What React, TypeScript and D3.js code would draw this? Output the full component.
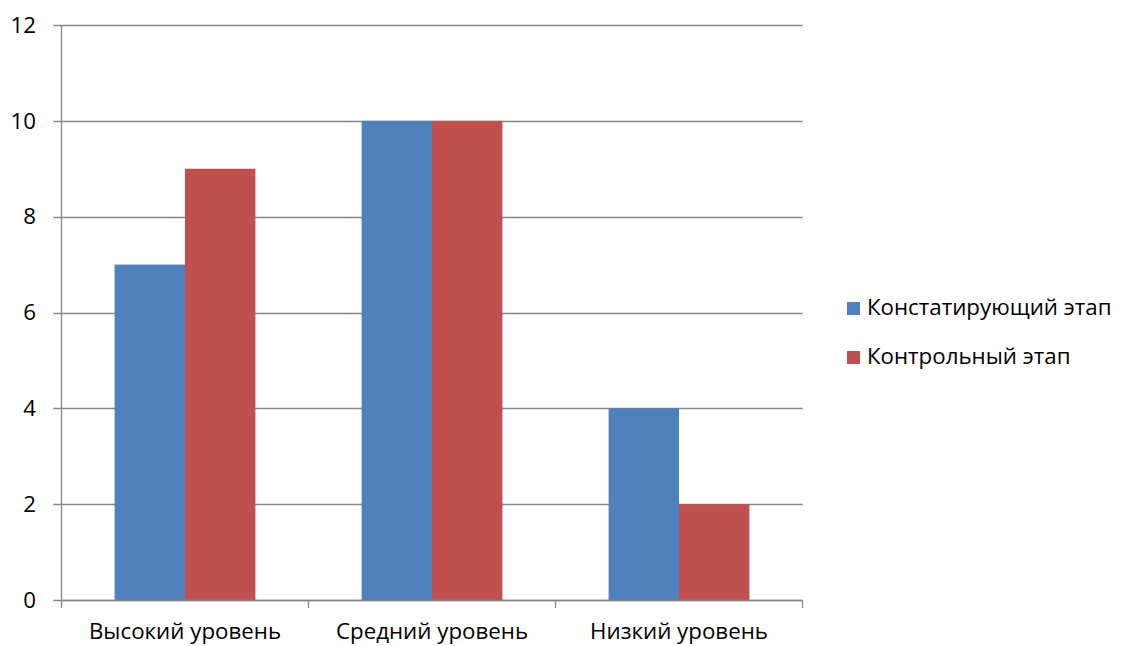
import React from "react";
import * as d3 from "d3";

const categories = ["Высокий уровень", "Средний уровень", "Низкий уровень"];
const seriesNames = ["Констатирующий этап", "Контрольный этап"];
const ascertaining = [7, 10, 4];
const control = [9, 10, 2];
const yTicks = [0, 2, 4, 6, 8, 10, 12];
const colors = ["#4F81BD", "#C0504D"];

const W = 1121;
const H = 646;
const left = 61.5;
const right = 802.5;
const top = 25;
const bottom = 600;
const FONT = "'Open Sans', 'Liberation Sans', sans-serif";
const FS = 22.3;

export default function App() {
  const x = d3.scaleBand<string>().domain(categories).range([left, right]).paddingInner(0).paddingOuter(0);
  const y = d3.scaleLinear().domain([0, 12]).range([bottom, top]);
  const bw = x.bandwidth();
  const barW = bw * 0.285;
  const series = [ascertaining, control];

  return (
    <svg width={W} height={H} style={{ position: "absolute", left: 0, top: 0, background: "#fff" }}>
      {yTicks.map((t) => (
        <g key={t}>
          <line x1={left - 8} x2={right} y1={Math.round(y(t)) + 0.5} y2={Math.round(y(t)) + 0.5} stroke="#868686" strokeWidth={1.3} />
          <text x={36} y={y(t)} dy="0.35em" textAnchor="end" fontFamily={FONT} fontSize={FS} fill="#000">
            {t}
          </text>
        </g>
      ))}
      {categories.map((c, i) =>
        series.map((s, k) => (
          <rect
            key={c + k}
            x={(x(c) as number) + bw / 2 - barW + k * barW}
            y={y(s[i])}
            width={barW}
            height={y(0) - y(s[i])}
            fill={colors[k]}
          />
        ))
      )}
      <line x1={left} x2={left} y1={top} y2={bottom} stroke="#868686" strokeWidth={1.3} />
      <line x1={left} x2={right} y1={bottom + 0.5} y2={bottom + 0.5} stroke="#868686" strokeWidth={1.3} />
      {[...categories.map((c) => x(c) as number), right].map((px, i) => (
        <line key={i} x1={px} x2={px} y1={bottom} y2={bottom + 8} stroke="#868686" strokeWidth={1.3} />
      ))}
      {categories.map((c) => (
        <text key={c} x={(x(c) as number) + bw / 2} y={639} textAnchor="middle" fontFamily={FONT} fontSize={FS} fill="#000">
          {c}
        </text>
      ))}
      {seriesNames.map((n, k) => (
        <g key={n}>
          <rect x={847} y={302 + k * 49} width={13} height={13} fill={colors[k]} />
          <text x={867} y={307.5 + k * 49} dy="0.35em" fontFamily={FONT} fontSize={FS} fill="#000">
            {n}
          </text>
        </g>
      ))}
    </svg>
  );
}
